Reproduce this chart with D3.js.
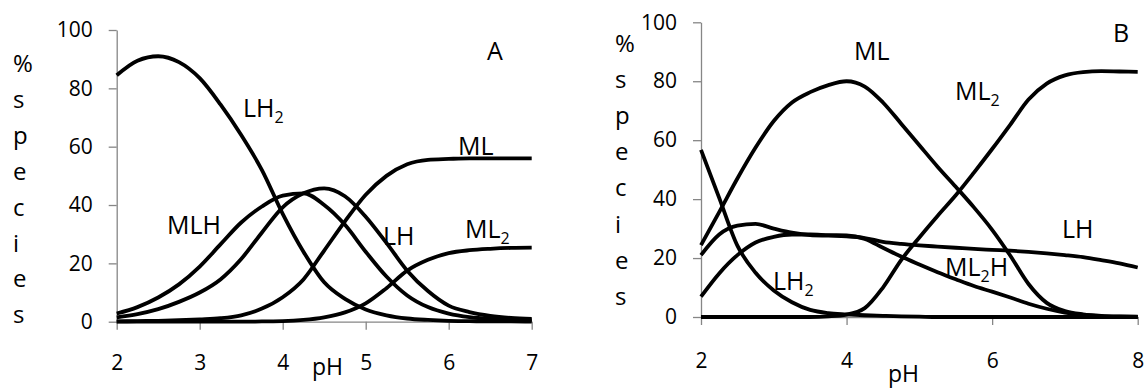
<!DOCTYPE html>
<html>
<head>
<meta charset="utf-8">
<script src="https://cdn.jsdelivr.net/npm/d3@7"></script>
<style>
  body { margin: 0; background: #fff; }
  svg { display: block; font-family: "Open Sans", sans-serif; }
</style>
</head>
<body>
<svg id="chart" width="1147" height="390"></svg>
<script>
// ---- panel A data (pH 2..7) ----
const phA = [2, 2.25, 2.5, 2.75, 3, 3.25, 3.5, 3.75, 4, 4.25, 4.5, 4.75, 5, 5.25, 5.5, 5.75, 6, 6.25, 6.5, 6.75, 7];
const aLH2 = [84.5, 89.5, 91, 89, 83.5, 74.5, 64, 52, 37, 24, 13.5, 7.8, 4.2, 2.2, 1.1, 0.6, 0.3, 0.2, 0.1, 0.1, 0];
const aMLH = [2.8, 5.0, 8.3, 12.8, 18.9, 26.5, 34, 39.5, 43.2, 44, 40, 33.2, 24, 15.5, 9, 5, 2.8, 1.6, 1.0, 0.7, 0.5];
const aLH  = [1.5, 2.6, 4.3, 6.8, 10, 14.5, 21.5, 30.6, 39.2, 44, 45.7, 43, 36, 27, 17.5, 10.5, 5.5, 3.3, 2.0, 1.3, 1.0];
const aML  = [0.1, 0.2, 0.3, 0.5, 0.8, 1.2, 2.2, 4.5, 8.4, 14.5, 24.4, 34.4, 43.5, 50, 54, 55.5, 55.8, 56, 56, 56, 56];
const aML2 = [0, 0, 0, 0, 0, 0, 0, 0.1, 0.2, 0.6, 1.5, 3.2, 6.3, 11.5, 17.5, 21.2, 23.5, 24.5, 25, 25.3, 25.4];
const aTicksX = [2, 3, 4, 5, 6, 7];

// ---- panel B data (pH 2..8) ----
const phB = [2, 2.25, 2.5, 2.75, 3, 3.25, 3.5, 3.75, 4, 4.25, 4.5, 4.75, 5, 5.25, 5.5, 5.75, 6, 6.25, 6.5, 6.75, 7, 7.25, 7.5, 7.75, 8];
const bLH2  = [56.7, 40.4, 24.2, 15, 9, 5, 2.4, 1.3, 0.9, 0.6, 0.4, 0.2, 0.1, 0, 0, 0, 0, 0, 0, 0, 0, 0, 0, 0, 0];
const bML   = [24.4, 35.6, 47, 57.5, 66.5, 72.8, 76.3, 78.7, 80, 78.2, 72.8, 65.6, 58.3, 51.0, 44.2, 37.2, 29.6, 20.8, 11.2, 4.8, 2, 0.9, 0.4, 0.2, 0.1];
const bML2  = [0, 0, 0, 0, 0, 0, 0, 0.2, 0.8, 3, 10, 19.3, 27, 34.3, 41.3, 49, 57, 65.3, 73.8, 79.2, 82, 83.1, 83.4, 83.3, 83.2];
const bLH   = [21, 28, 31, 31.6, 30, 28.6, 27.8, 27.6, 27.4, 26.8, 25.5, 24.8, 24.3, 23.9, 23.5, 23.1, 22.8, 22.5, 22.1, 21.6, 21, 20.3, 19.3, 18.2, 16.8];
const bML2H = [6.9, 14.8, 21, 25.3, 27.2, 28, 28, 27.8, 27.7, 26.5, 23.5, 20.5, 17.8, 15.2, 12.8, 10.5, 8.6, 6.6, 4.5, 2.8, 1.5, 0.7, 0.3, 0.1, 0];
const bTicksX = [2, 4, 6, 8];

const yTicks = [0, 20, 40, 60, 80, 100];
const yLetters = ["%", "s", "p", "e", "c", "i", "e", "s"];

const svg = d3.select("#chart");
const axisColor = "#868686";

function drawPanel(o) {
    const x = d3.scaleLinear().domain([o.ph[0], o.ph[o.ph.length - 1]]).range([o.left, o.right]);
    const y = d3.scaleLinear().domain([0, 100]).range([o.bottom, o.top]);
    const g = svg.append("g");

    const xAxis = g.append("g")
        .attr("transform", `translate(0,${o.bottom})`)
        .call(d3.axisBottom(x).tickValues(o.xTicks).tickSize(8).tickSizeOuter(0).tickFormat(d3.format("d")));
    const yAxis = g.append("g")
        .attr("transform", `translate(${o.left},0)`)
        .call(d3.axisLeft(y).tickValues(yTicks).tickSize(8).tickSizeOuter(0).tickPadding(16));

    [xAxis, yAxis].forEach(a => {
        a.attr("font-family", null).attr("font-size", null);
        a.select(".domain").attr("stroke", axisColor).attr("stroke-width", 1.3);
        a.selectAll(".tick line").attr("stroke", axisColor).attr("stroke-width", 1.3);
        a.selectAll(".tick text").attr("fill", "#000").style("font-size", "21px");
    });
    // put the x tick labels on their baseline
    xAxis.selectAll(".tick text").attr("y", o.xLabBase).attr("dy", null);

    const line = d3.line()
        .x((d, i) => x(o.ph[i]))
        .y(d => y(d))
        .curve(d3.curveMonotoneX);

    o.series.forEach(s => {
        g.append("path")
            .datum(s)
            .attr("d", line)
            .attr("fill", "none")
            .attr("stroke", "#000")
            .attr("stroke-width", 3.8)
            .attr("stroke-linejoin", "round");
    });

    // species labels
    o.labels.forEach(l => {
        const t = g.append("text")
            .attr("x", l.x)
            .attr("y", l.y)
            .style("font-size", "25px")
            .attr("fill", "#000");
        t.append("tspan").text(l.text);
        if (l.sub) {
            t.append("tspan").attr("dy", 6).style("font-size", "16px").text(l.sub);
            if (l.after) t.append("tspan").attr("dy", -6).text(l.after);
        }
    });

    // vertical y label
    yLetters.forEach((c, k) => {
        g.append("text")
            .attr("x", o.ylX)
            .attr("y", o.ylY + k * o.ylStep)
            .style("font-size", "24px")
            .text(c);
    });

    g.append("text")
        .attr("x", o.phX)
        .attr("y", o.phY)
        .style("font-size", "23px")
        .text("pH");

    g.append("text")
        .attr("x", o.tagX)
        .attr("y", o.tagY)
        .style("font-size", "25px")
        .text(o.tag);
}

drawPanel({
    ph: phA, series: [aLH2, aMLH, aLH, aML, aML2], xTicks: aTicksX,
    left: 116.7, right: 531.7, top: 30, bottom: 321.7, xLabBase: 48,
    labels: [
        { text: "LH", sub: "2", x: 243, y: 117 },
        { text: "MLH", x: 167, y: 234 },
        { text: "LH", x: 383, y: 245 },
        { text: "ML", x: 458, y: 155 },
        { text: "ML", sub: "2", x: 465, y: 238 }
    ],
    ylX: 13, ylY: 72, ylStep: 35.9,
    phX: 312, phY: 375,
    tag: "A", tagX: 487, tagY: 60
});

drawPanel({
    ph: phB, series: [bLH2, bML, bML2, bLH, bML2H], xTicks: bTicksX,
    left: 701, right: 1137.7, top: 22.3, bottom: 317, xLabBase: 51,
    labels: [
        { text: "ML", x: 854, y: 60 },
        { text: "ML", sub: "2", x: 955, y: 100 },
        { text: "LH", x: 1062, y: 238 },
        { text: "ML", sub: "2", after: "H", x: 945, y: 276 },
        { text: "LH", sub: "2", x: 773, y: 290 }
    ],
    ylX: 615, ylY: 52, ylStep: 36.1,
    phX: 888, phY: 382,
    tag: "B", tagX: 1113, tagY: 42
});
</script>
</body>
</html>
